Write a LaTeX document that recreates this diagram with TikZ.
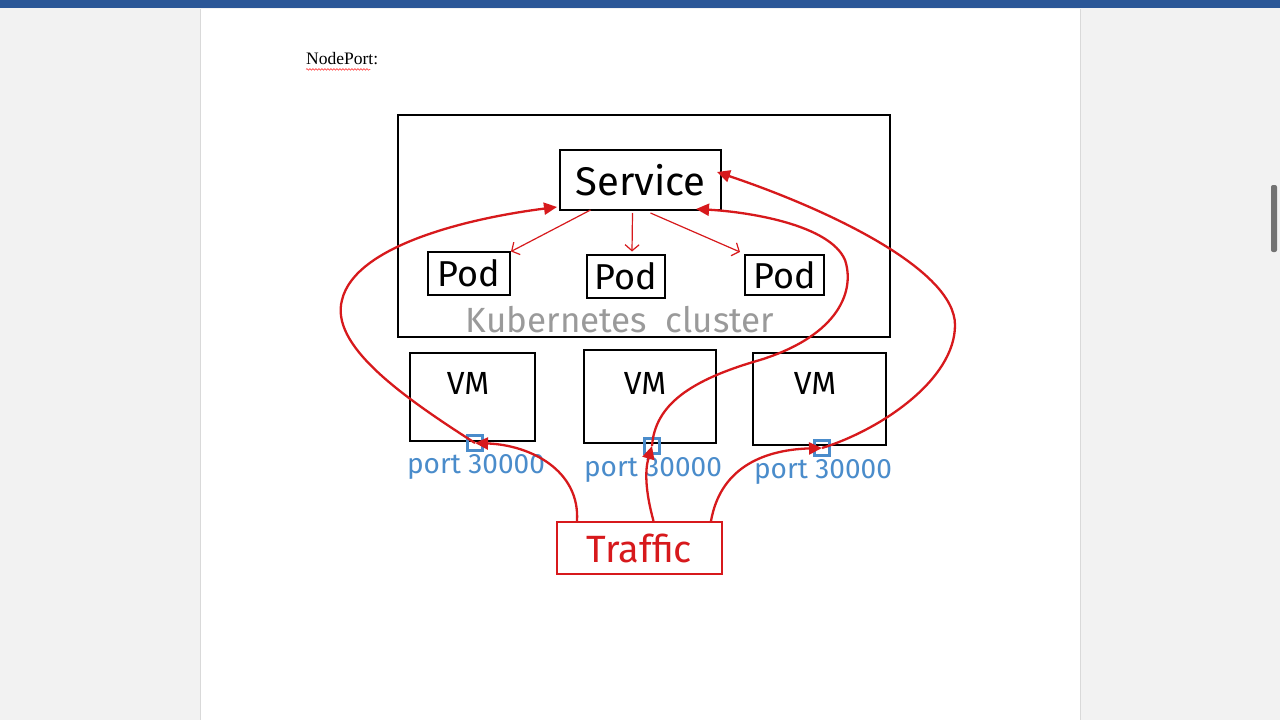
\documentclass[tikz,border=0pt]{standalone}
\usepackage{fontspec}
\setmainfont{Liberation Serif}
\newfontfamily\hand{Fira Sans}
\usetikzlibrary{arrows.meta,decorations.pathmorphing,calc}
\definecolor{wordblue}{HTML}{2B5797}
\definecolor{bgcol}{HTML}{F2F2F2}
\definecolor{kred}{HTML}{D7191C}
\definecolor{kblue}{HTML}{4A8CCB}
\definecolor{kgray}{HTML}{9A9A9A}
\begin{document}
\begin{tikzpicture}[x=1pt,y=-1pt,
  box/.style={draw=black, line width=2pt, inner sep=0pt},
  flow/.style={draw=kred, line width=2.3pt, -{Triangle[length=13pt,width=12pt]}},
  fan/.style={draw=kred, line width=1.2pt, -{Straight Barb[length=6pt,width=14pt]}},
  portbox/.style={draw=kblue, line width=2.5pt, minimum size=15pt, inner sep=0pt},
  lbl/.style={font=\hand\fontsize{#1}{#1}\selectfont, inner sep=0pt},
]
\useasboundingbox (0,0) rectangle (1280,720);
\fill[bgcol] (0,0) rectangle (1280,720);
\fill[white] (200,9) rectangle (1080,720);
\draw[black!15] (200,9) -- (200,720) (1080,9) -- (1080,720);
\fill[wordblue] (0,0) rectangle (1280,8);
\fill[black!55, rounded corners=2pt] (1271,185) rectangle (1277,252);

% heading
\node[anchor=west, inner sep=0pt, font=\fontsize{17.5}{17.5}\selectfont] (title) at (306,59) {NodePort:};
\draw[red!80, line width=0.6pt, decorate, decoration={snake, amplitude=0.8pt, segment length=3pt}]
  ($(title.south west)+(0,4)$) -- ($(title.south east)+(-8,4)$);

% cluster
\node[box, minimum width=492, minimum height=222] (cluster) at (644,226) {};
\node[box, minimum width=161, minimum height=60, lbl=40] (service) at (640.5,180) {Service};
\node[box, minimum width=82, minimum height=43, lbl=36] (pod1) at (469,273) {Pod};
\node[box, minimum width=78, minimum height=43, lbl=36] (pod2) at (626,276) {Pod};
\node[box, minimum width=79, minimum height=40, lbl=36] (pod3) at (784.5,275) {Pod};
\node[lbl=35, text=kgray] (kube) at (620,320) {Kubernetes\ \ cluster};

% VMs
\node[box, minimum width=125, minimum height=88] (vm1) at (472.5,397) {};
\node[box, minimum width=132, minimum height=93] (vm2) at (650,396.5) {};
\node[box, minimum width=133, minimum height=92] (vm3) at (819.5,399) {};
\node[lbl=32] (vm1t) at (468,383) {VM};
\node[lbl=32] (vm2t) at (645,383) {VM};
\node[lbl=32] (vm3t) at (815,383) {VM};

% ports
\node[portbox] (port1) at (475,443) {};
\node[portbox] (port2) at (652,446) {};
\node[portbox] (port3) at (822,448) {};
\node[lbl=28, text=kblue] (p1t) at (476,467) {port 30000};
\node[lbl=28, text=kblue] (p2t) at (653,470) {port 30000};
\node[lbl=28, text=kblue] (p3t) at (823,472) {port 30000};

% traffic
\node[draw=kred, line width=2pt, minimum width=165, minimum height=52, lbl=38, text=kred] (traffic) at (639.5,548) {Traffic};

% service -> pods
\draw[fan] ($(service.south)+(-50,-1)$) -- ($(pod1.north east)+(0,1)$);
\draw[fan] ($(service.south)+(-8,2)$) -- ($(pod2.north)+(6,-2)$);
\draw[fan] ($(service.south)+(10,2)$) -- ($(pod3.north west)+(-4,-2)$);

% ports -> service
\draw[flow] (port1.center) .. controls (400,395) and (330,345) .. (342,300)
  .. controls (355,245) and (470,218) .. ($(service.south west)+(-2,-4)$);
\draw[flow] (port2.center) .. controls (655,405) and (690,380) .. (760,360)
  .. controls (840,335) and (855,290) .. (845,260)
  .. controls (830,225) and (750,212) .. ($(service.south east)+(-26,-2)$);
\draw[flow] (port3.center) .. controls (880,430) and (955,380) .. (955,325)
  .. controls (955,270) and (830,210) .. ($(service.east)+(-5,-8)$);

% traffic -> ports
\draw[flow] ($(traffic.north west)+(21,0)$) .. controls (580,470) and (530,445) .. (port1.center);
\draw[flow] ($(traffic.north)+(14,0)$) .. controls (645,490) and (645,470) .. (port2.center);
\draw[flow] ($(traffic.north east)+(-12,0)$) .. controls (720,470) and (760,450) .. (port3.center);
\end{tikzpicture}
\end{document}
